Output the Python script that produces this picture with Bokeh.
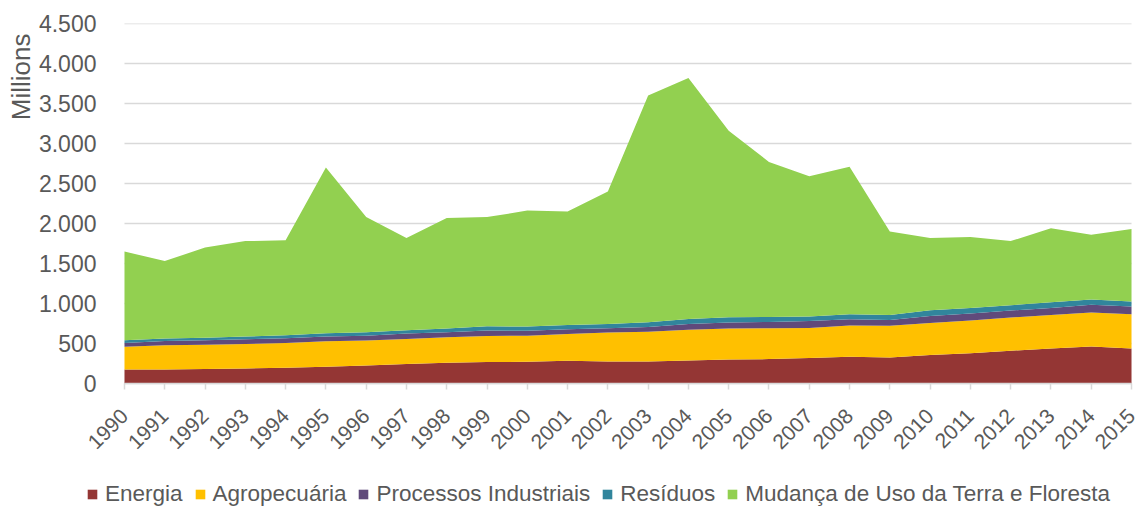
import math
from bokeh.plotting import figure
from bokeh.models import ColumnDataSource, FixedTicker, Legend, LegendItem, Title
from bokeh.embed import file_html
from bokeh.resources import INLINE

years = list(range(1990, 2016))
energia = [176, 176, 180, 188, 197, 209, 226, 243, 260, 268, 272, 285, 276,
           276, 289, 301, 305, 318, 335, 324, 356, 377, 410, 439, 464, 439]
agropecuaria = [284, 301, 305, 306, 310, 318, 310, 314, 317, 327, 326, 334, 360,
                372, 384, 385, 385, 376, 389, 397, 401, 409, 414, 418, 423, 427]
processos = [47, 55, 55, 58, 58, 59, 62, 67, 63, 66, 60, 59, 54,
             59, 72, 75, 80, 88, 79, 72, 88, 88, 88, 88, 96, 96]
residuos = [33, 29, 33, 34, 37, 42, 42, 41, 46, 54, 54, 54, 55,
            59, 62, 67, 62, 55, 63, 62, 71, 71, 67, 71, 67, 63]
mudanca = [1110, 969, 1127, 1194, 1188, 2072, 1440, 1155, 1384, 1365, 1449, 1418, 1655,
           2834, 3013, 2332, 1938, 1753, 1844, 1045, 904, 885, 801, 924, 810, 905]

series_names = ["Energia", "Agropecuária", "Processos Industriais", "Resíduos",
                "Mudança de Uso da Terra e Floresta"]
series_keys = ["energia", "agro", "proc", "res", "mud"]
colors = ["#943634", "#FFC000", "#604A7B", "#31859C", "#92D050"]

y_ticks = [0, 500, 1000, 1500, 2000, 2500, 3000, 3500, 4000, 4500]
y_tick_labels = ["0", "500", "1.000", "1.500", "2.000", "2.500", "3.000", "3.500", "4.000", "4.500"]

src = ColumnDataSource(dict(year=years, energia=energia, agro=agropecuaria,
                            proc=processos, res=residuos, mud=mudanca))

# the frame is a little wider than the data (room for the rotated year labels)
# and reaches the bottom of the window (room for the legend under the x axis)
p = figure(frame_width=1056, frame_height=484, output_backend="svg", toolbar_location=None,
           x_range=(1989.032, 2015.248), y_range=(-1550, 4500),
           min_border_left=85, min_border_right=0, min_border_top=23, min_border_bottom=0)
p.outline_line_color = None
p.background_fill_color = "white"
p.border_fill_color = "white"

# horizontal gridlines limited to the data span
grid_src = ColumnDataSource(dict(x0=[years[0]] * len(y_ticks), x1=[years[-1]] * len(y_ticks),
                                 y=y_ticks))
p.segment(x0="x0", x1="x1", y0="y", y1="y", source=grid_src,
          line_color="#D9D9D9", line_width=1.5, level="underlay")

renderers = p.varea_stack(stackers=series_keys, x="year", color=colors, source=src)

items = [LegendItem(label=n, renderers=[r]) for n, r in zip(series_names, renderers)]
legend = Legend(items=items, orientation="horizontal", location=(1, 0),
                label_text_font="Liberation Sans", label_text_font_size="22.5px",
                label_text_color="#595959", glyph_width=12, glyph_height=12,
                label_standoff=7, spacing=11, padding=0, margin=0,
                border_line_color=None, background_fill_alpha=0)
p.add_layout(legend, "center")

ytitle = Title(text="Millions", align="right", text_font="Liberation Sans",
               text_font_size="26px", text_font_style="normal", text_color="#595959",
               offset=10, standoff=0)
p.add_layout(ytitle, "left")

p.xaxis.fixed_location = 0
p.xaxis.bounds = (years[0], years[-1])
p.xaxis.ticker = FixedTicker(ticks=years)
p.xaxis.major_label_overrides = {y: str(y) for y in years}
p.xaxis.major_label_orientation = math.pi / 4
p.xaxis.major_label_text_font = "Liberation Sans"
p.xaxis.major_label_text_font_size = "21px"
p.xaxis.major_label_text_color = "#595959"
p.xaxis.axis_line_color = "#D9D9D9"
p.xaxis.axis_line_width = 1.5
p.xaxis.major_tick_line_color = "#D9D9D9"
p.xaxis.major_tick_line_width = 1.5
p.xaxis.major_tick_in = 0
p.xaxis.major_tick_out = 6
p.xaxis.minor_tick_line_color = None
p.xaxis.major_label_standoff = 23

p.yaxis.ticker = FixedTicker(ticks=y_ticks)
p.yaxis.major_label_overrides = dict(zip(y_ticks, y_tick_labels))
p.yaxis.major_label_text_font = "Liberation Sans"
p.yaxis.major_label_text_font_size = "23px"
p.yaxis.major_label_text_color = "#595959"
p.yaxis.axis_line_color = None
p.yaxis.major_tick_line_color = None
p.yaxis.minor_tick_line_color = None
p.yaxis.major_label_standoff = -17

p.xgrid.grid_line_color = None
p.ygrid.grid_line_color = None

open("out.html", "w").write(file_html(p, INLINE))
